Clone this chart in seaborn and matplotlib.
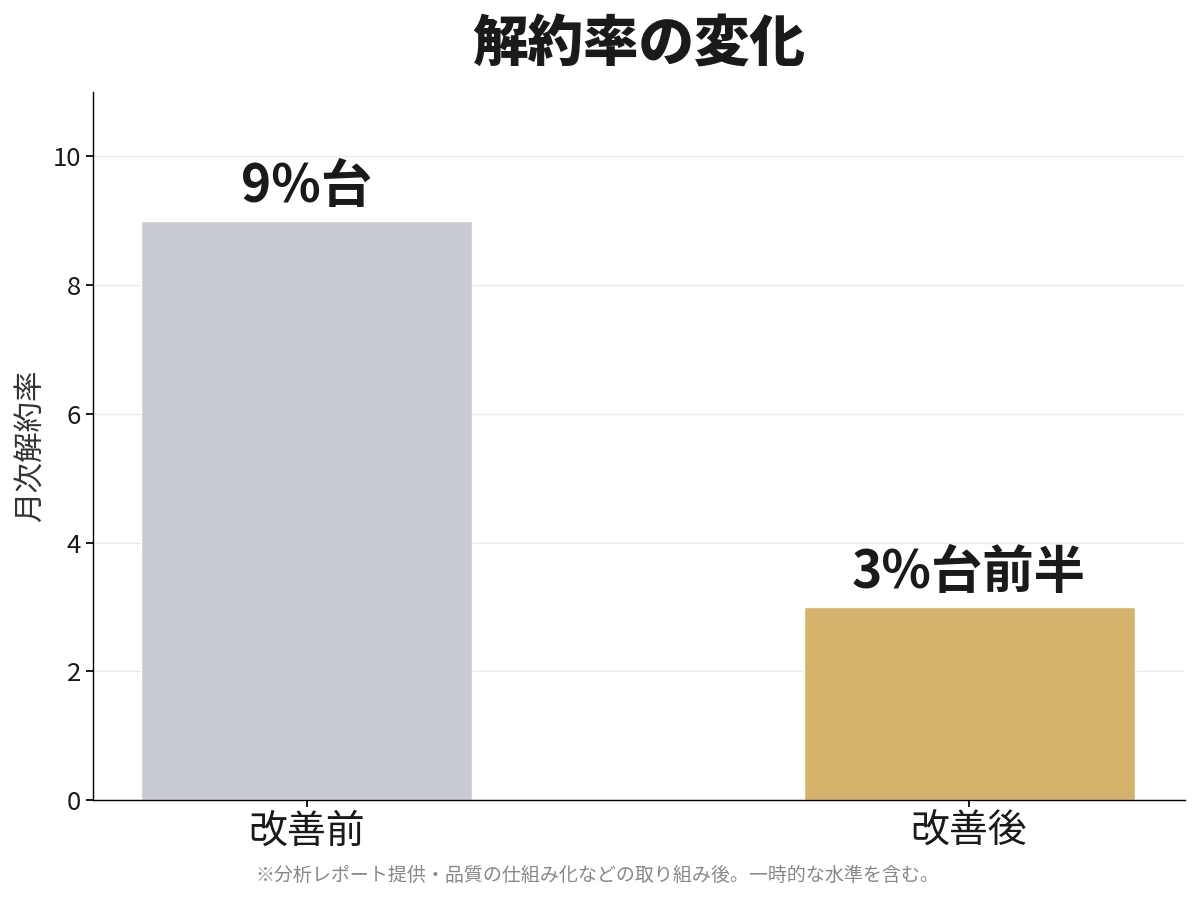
import matplotlib
matplotlib.use("Agg")
import matplotlib.pyplot as plt
import seaborn as sns
import pandas as pd

categories = ["改善前", "改善後"]
values = [9.0, 3.0]
bar_labels = ["9%台", "3%台前半"]
colors = ["#C8CCD2", "#D5B36B"]
title = "解約率の変化"
ylabel = "月次解約率"
footnote = "※分析レポート提供・品質の仕組み化などの取り組み後。一時的な水準を含む。"

sns.set_theme(style="white")
plt.rcParams['font.family'] = ['Noto Sans CJK JP', 'DejaVu Sans']

df = pd.DataFrame({"cat": categories, "val": values})

fig = plt.figure(figsize=(12, 9), dpi=100)
ax = fig.add_axes([0.0775, 0.111, 0.91, 0.787])
sns.barplot(data=df, x="cat", y="val", hue="cat", palette=colors, width=0.5,
            legend=False, ax=ax, saturation=1)
ax.set_xlim(-0.323, 1.326)
ax.set_ylim(0, 11)
ax.set_yticks([0, 2, 4, 6, 8, 10])
ax.yaxis.grid(True, color="#EBEBEB", linewidth=1)
ax.set_axisbelow(True)
for s in ["top", "right"]:
    ax.spines[s].set_visible(False)
for s in ["left", "bottom"]:
    ax.spines[s].set_color("black")
    ax.spines[s].set_linewidth(1)
ax.tick_params(axis="y", labelsize=18.5, left=True, length=5, color="black", labelcolor="#1a1a1a")
ax.tick_params(axis="x", labelsize=28, bottom=True, length=5, color="black", labelcolor="#1a1a1a")
ax.set_xlabel("")
ax.set_ylabel(ylabel, fontsize=22, color="#333333")
for i, (v, lab) in enumerate(zip(values, bar_labels)):
    ax.text(i, v + 0.12, lab, ha="center", va="bottom", fontsize=37,
            fontweight="bold", color="#1a1a1a")
ax.set_title(title, fontsize=40, fontweight="heavy", pad=22, color="#1a1a1a")
fig.text(0.4975, 0.027, footnote, ha="center", va="center", fontsize=13.7, color="#888888")
fig.savefig("out.png", dpi=100)
